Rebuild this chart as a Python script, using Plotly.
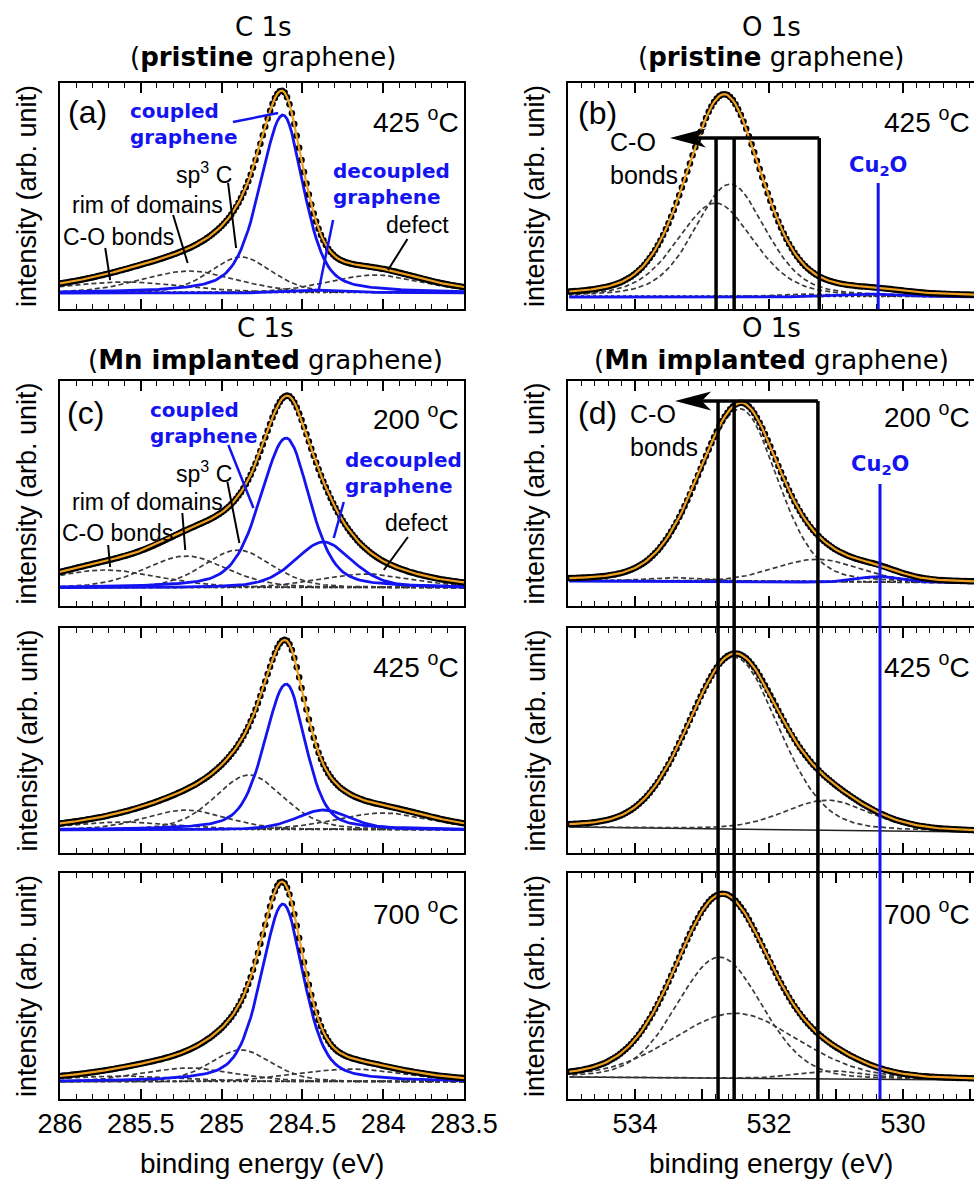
import numpy as np
import plotly.graph_objects as go

W, H = 974, 1179

# ---------------- values ----------------
C_RANGE = [286.0, 283.5]
O_RANGE = [535.0, 528.94]
C_TICKS = [286, 285.5, 285, 284.5, 284, 283.5]
C_TICKTEXT = ["286", "285.5", "285", "284.5", "284", "283.5"]
O_TICKS = [535, 534, 533, 532, 531, 530, 529]
O_TICKTEXT = ["", "534", "", "532", "", "530", ""]

# peak = [centre (eV), height, FWHM high-BE side, FWHM low-BE side, Lorentzian fraction]
# (a) C 1s pristine, 425 C
a_coupled = [284.62, 178, 0.34, 0.30, 0.45]
a_decoupled = [284.35, 3, 0.40, 0.40, 0.3]
a_sp3 = [284.88, 36, 0.45, 0.45, 0.3]
a_rim = [285.20, 22, 0.70, 0.70, 0.3]
a_co = [285.60, 11, 0.90, 0.90, 0.3]
a_defect = [284.05, 18, 0.70, 0.70, 0.3]
a_bg = [0, 0]
# (c) C 1s Mn implanted, 200 C
c200_coupled = [284.60, 150, 0.38, 0.34, 0.4]
c200_decoupled = [284.37, 46, 0.42, 0.42, 0.4]
c200_sp3 = [284.90, 38, 0.50, 0.50, 0.3]
c200_rim = [285.22, 32, 0.60, 0.60, 0.3]
c200_co = [285.72, 18, 0.80, 0.80, 0.3]
c200_defect = [284.10, 14, 0.70, 0.70, 0.3]
c200_bg = [0, 0]
# (c) 425 C
c425_coupled = [284.60, 146, 0.32, 0.28, 0.4]
c425_decoupled = [284.37, 20, 0.40, 0.40, 0.4]
c425_sp3 = [284.83, 55, 0.50, 0.50, 0.3]
c425_rim = [285.22, 20, 0.60, 0.60, 0.3]
c425_co = [285.60, 8, 0.80, 0.80, 0.3]
c425_defect = [284.00, 17, 0.70, 0.70, 0.3]
c425_bg = [0, 0]
# (c) 700 C
c700_coupled = [284.62, 178, 0.32, 0.30, 0.45]
c700_sp3 = [284.88, 32, 0.45, 0.45, 0.3]
c700_rim = [285.20, 14, 0.70, 0.70, 0.3]
c700_co = [285.60, 6, 0.90, 0.90, 0.3]
c700_defect = [284.20, 13, 0.80, 0.80, 0.3]
c700_bg = [0, 0]
# (b) O 1s pristine, 425 C
b_comp1 = [532.58, 113, 1.25, 1.25, 0.35]
b_comp2 = [532.80, 94, 1.35, 1.35, 0.35]
b_comp3 = [531.30, 3, 1.40, 1.40, 0.3]
b_cu2o = [530.35, 3, 1.00, 1.00, 0.3]
b_bg = [0, 0]
# (d) O 1s Mn implanted, 200 C
d200_main = [532.43, 173, 1.45, 1.30, 0.2]
d200_high = [531.28, 23, 1.50, 1.50, 0.2]
d200_small = [533.30, 4, 1.20, 1.20, 0.2]
d200_cu2o = [530.34, 6, 0.80, 0.80, 0.2]
d200_bg = [1, -1]
# (d) 425 C
d425_main = [532.52, 172, 1.62, 1.55, 0.15]
d425_high = [531.13, 30, 1.50, 1.50, 0.2]
d425_bg = [1, -4]
# (d) 700 C
d700_a = [532.74, 121, 1.50, 1.50, 0.15]
d700_b = [532.50, 65, 2.20, 2.20, 0.15]
d700_c = [531.00, 8, 1.20, 1.20, 0.2]
d700_bg = [1, -2]

# marker positions of labels / guide lines (data coords)
O_LINES_B = [532.79, 532.52, 531.25]
O_LINES_D = [532.76, 532.52, 531.27]
CU2O_B = 530.37
CU2O_D = 530.343

# ---------------- layout geometry ----------------
COLS = [(60, 464), (568, 975)]
ROWS = [(83, 309), (381, 606), (628, 853), (873, 1099)]
YR = {1: [-16, 210], 3: [-18, 207], 5: [-23, 202], 7: [-17, 209],
      2: [-12, 214], 4: [-24, 201], 6: [-25, 200], 8: [-21, 205]}

SANS = "Liberation Sans, Arial, sans-serif"
VER = "DejaVu Sans, Verdana, sans-serif"
ORANGE = "#F0A020"
BLUE = "#1414F0"
DASH = "#3a3a3a"


def profile(E, p):
    c, h, wh, wl, eta = p
    w = np.where(E >= c, wh, wl)
    u = (E - c) / w
    return h * (eta / (1 + 4 * u ** 2) + (1 - eta) * np.exp(-4 * np.log(2) * u ** 2))


fig = go.Figure()


def add_panel(n, rng, step, bg, dashed, blue, bg_style):
    E = np.arange(min(rng), max(rng) + step / 2, step)
    bgv = bg[0] + (bg[1] - bg[0]) * (E - rng[0]) / (rng[1] - rng[0])
    xa, ya = "x%d" % n, "y%d" % n
    total = bgv.copy()
    if bg_style == "solid":
        fig.add_trace(go.Scatter(x=E, y=bgv, mode="lines", line=dict(color="#222", width=1.5),
                                 xaxis=xa, yaxis=ya, showlegend=False, hoverinfo="skip"))
    else:
        fig.add_trace(go.Scatter(x=E, y=bgv + 0.8, mode="lines", line=dict(color="#222", width=2, dash="dot"),
                                 xaxis=xa, yaxis=ya, showlegend=False, hoverinfo="skip"))
    for p in dashed:
        v = profile(E, p)
        total += v
        fig.add_trace(go.Scatter(x=E, y=bgv + v, mode="lines", line=dict(color=DASH, width=1.7, dash="5px,3px"),
                                 xaxis=xa, yaxis=ya, showlegend=False, hoverinfo="skip"))
    for p in blue:
        v = profile(E, p)
        total += v
        fig.add_trace(go.Scatter(x=E, y=bgv + v, mode="lines", line=dict(color=BLUE, width=2.8),
                                 xaxis=xa, yaxis=ya, showlegend=False, hoverinfo="skip"))
    fig.add_trace(go.Scatter(x=E, y=total, mode="markers", marker=dict(color="black", size=6.5),
                             xaxis=xa, yaxis=ya, showlegend=False, hoverinfo="skip"))
    fig.add_trace(go.Scatter(x=E, y=total, mode="lines", line=dict(color=ORANGE, width=2.2),
                             xaxis=xa, yaxis=ya, showlegend=False, hoverinfo="skip"))


add_panel(1, C_RANGE, 0.015, a_bg, [a_co, a_rim, a_sp3, a_defect], [a_coupled, a_decoupled], "dot")
add_panel(3, C_RANGE, 0.015, c200_bg, [c200_co, c200_rim, c200_sp3, c200_defect], [c200_coupled, c200_decoupled], "dot")
add_panel(5, C_RANGE, 0.015, c425_bg, [c425_co, c425_rim, c425_sp3, c425_defect], [c425_coupled, c425_decoupled], "dot")
add_panel(7, C_RANGE, 0.015, c700_bg, [c700_co, c700_rim, c700_sp3, c700_defect], [c700_coupled], "dot")
add_panel(2, O_RANGE, 0.04, b_bg, [b_comp1, b_comp2, b_comp3], [b_cu2o], "dot")
add_panel(4, O_RANGE, 0.04, d200_bg, [d200_main, d200_high, d200_small], [d200_cu2o], "dot")
add_panel(6, O_RANGE, 0.04, d425_bg, [d425_main, d425_high], [], "solid")
add_panel(8, O_RANGE, 0.04, d700_bg, [d700_a, d700_b, d700_c], [], "solid")

# ---------------- axes ----------------
layout = dict(width=W, height=H, margin=dict(l=0, r=0, t=0, b=0, pad=0, autoexpand=False),
              paper_bgcolor="white", plot_bgcolor="white", showlegend=False)


def pdom(lo, hi):
    return [1 - hi / H, 1 - lo / H]


for n in range(1, 9):
    col = (n - 1) % 2
    row = (n - 1) // 2
    left = col == 0
    xd = [COLS[col][0] / W, min(COLS[col][1] / W, 1.0)]
    yd = pdom(*ROWS[row])
    layout["xaxis%d" % n] = dict(
        domain=xd, range=C_RANGE if left else O_RANGE, autorange=False,
        tickmode="array", tickvals=C_TICKS if left else O_TICKS,
        ticktext=C_TICKTEXT if left else O_TICKTEXT,
        ticks="inside", ticklen=10, tickwidth=1.5, tickcolor="black",
        showline=True, linecolor="black", linewidth=2, mirror="ticks",
        showgrid=False, zeroline=False, showticklabels=(row == 3),
        tickfont=dict(family=SANS, size=27, color="black"),
        minor=dict(tickmode="linear", tick0=284 if left else 530, dtick=0.1 if left else 0.2,
                   ticks="inside", ticklen=5, tickwidth=1.2, tickcolor="black", showgrid=False),
        anchor="y%d" % n)
    layout["yaxis%d" % n] = dict(
        domain=yd, range=YR[n], autorange=False, showline=True, linecolor="black", linewidth=2,
        mirror=True if left else False, ticks="", showticklabels=False, showgrid=False,
        zeroline=False, anchor="x%d" % n)

fig.update_layout(**layout)


def ypaper(n, val):
    row = (n - 1) // 2
    d0, d1 = pdom(*ROWS[row])
    lo, hi = YR[n]
    return d0 + (val - lo) / (hi - lo) * (d1 - d0)


ann = []
shapes = []


def text(n, x, y, s, size=23, color="black", family=SANS, xanchor="center", bold=False):
    if bold:
        s = "<b>" + s + "</b>"
    ann.append(dict(x=x, y=y, xref="x%d" % n, yref="y%d" % n, text=s, showarrow=False,
                    xanchor=xanchor, yanchor="middle", align=xanchor if xanchor != "center" else "center",
                    font=dict(family=family, size=size, color=color)))


def line(n, x0, y0, x1, y1, color="black", width=2):
    shapes.append(dict(type="line", xref="x%d" % n, yref="y%d" % n, x0=x0, y0=y0, x1=x1, y1=y1,
                       line=dict(color=color, width=width), layer="above"))


# titles
for (cx, s1, s2, cy1, cy2) in [(263, "C 1s", "(<b>pristine</b> graphene)", 27, 57),
                                (771, "O 1s", "(<b>pristine</b> graphene)", 27, 57),
                                (265, "C 1s", "(<b>Mn implanted</b> graphene)", 328, 360),
                                (771, "O 1s", "(<b>Mn implanted</b> graphene)", 328, 360)]:
    ann.append(dict(x=cx / W, y=1 - cy1 / H, xref="paper", yref="paper", text=s1, showarrow=False,
                    xanchor="center", yanchor="middle", font=dict(family=VER, size=26, color="black")))
    ann.append(dict(x=cx / W, y=1 - cy2 / H, xref="paper", yref="paper", text=s2, showarrow=False,
                    xanchor="center", yanchor="middle", font=dict(family=VER, size=26, color="black")))

# y axis titles and x axis titles
for n in range(1, 9):
    col = (n - 1) % 2
    row = (n - 1) // 2
    cy = (ROWS[row][0] + ROWS[row][1]) / 2
    xx = 27 if col == 0 else 535
    ann.append(dict(x=xx / W, y=1 - cy / H, xref="paper", yref="paper", text="intensity (arb. unit)",
                    textangle=-90, showarrow=False, xanchor="center", yanchor="middle",
                    font=dict(family=SANS, size=27, color="black")))
for cx in (262, 771):
    ann.append(dict(x=cx / W, y=1 - 1163 / H, xref="paper", yref="paper", text="binding energy (eV)",
                    showarrow=False, xanchor="center", yanchor="middle",
                    font=dict(family=SANS, size=28, color="black")))

# panel tags and temperatures
text(1, 285.83, 181, "(a)", size=32)
text(3, 285.845, 175, "(c)", size=32)
text(2, 534.567, 184, "(b)", size=32)
text(4, 534.567, 169, "(d)", size=32)
for n, y, t in [(1, 173, "425"), (3, 171, "200"), (5, 165, "425"), (7, 170, "700")]:
    text(n, 283.519, y, t + " <sup>o</sup>C", size=28, xanchor="right")
for n, y, t in [(2, 177, "425"), (4, 167, "200"), (6, 163, "425"), (8, 166, "700")]:
    text(n, 528.97, y, t + " <sup>o</sup>C", size=28, xanchor="right")

# C 1s labels
c_lab = {1: dict(coup=(285.58, 169.5), dec=(284.325, 109.5), sp3=(285.11, 120), rim=(285.46, 88),
                 co=(285.64, 56), defect=(283.79, 68),
                 black=[[284.96, 110, 284.91, 45], [285.30, 78, 285.21, 30], [285.72, 45, 285.69, 13],
                        [283.85, 54, 283.97, 23]],
                 blue=[[284.93, 171, 284.65, 180], [284.31, 73, 284.40, 2]]),
         3: dict(coup=(285.454, 165.5), dec=(284.251, 115.5), sp3=(285.11, 116), rim=(285.457, 86),
                 co=(285.643, 55), defect=(283.792, 65),
                 black=[[284.964, 106, 284.890, 45], [285.243, 75, 285.225, 38], [285.702, 43, 285.690, 21],
                        [283.847, 51, 283.996, 18]],
                 blue=[[284.958, 143, 284.803, 80], [284.244, 86, 284.306, 50]])}
for n, d in c_lab.items():
    text(n, d["coup"][0], d["coup"][1], "coupled<br>graphene", size=20, color=BLUE, family=VER,
         xanchor="left", bold=True)
    text(n, d["dec"][0], d["dec"][1], "decoupled<br>graphene", size=20, color=BLUE, family=VER,
         xanchor="left", bold=True)
    text(n, d["sp3"][0], d["sp3"][1], "sp<sup>3</sup> C")
    text(n, d["rim"][0], d["rim"][1], "rim of domains")
    text(n, d["co"][0], d["co"][1], "C-O bonds")
    text(n, d["defect"][0], d["defect"][1], "defect")
    for s in d["black"]:
        line(n, *s, color="black", width=2)
    for s in d["blue"]:
        line(n, *s, color=BLUE, width=2.5)

# O 1s labels
text(2, 534.403, 138.5, "C-O<br>bonds", size=25, xanchor="left")
text(4, 534.104, 152, "C-O<br>bonds", size=25, xanchor="left")
text(2, CU2O_B, 131, "Cu<sub>2</sub>O", size=21, color=BLUE, family=VER, bold=True)
text(4, CU2O_D, 117, "Cu<sub>2</sub>O", size=21, color=BLUE, family=VER, bold=True)

# guide lines in (b)
TOP_B = 159
for xv in O_LINES_B:
    line(2, xv, TOP_B, xv, YR[2][0], width=3.5)
line(2, O_LINES_B[-1], TOP_B, 533.15, TOP_B, width=3.5)
shapes.append(dict(type="path", xref="x2", yref="y2",
                   path="M 533.433 %g L 532.98 %g L 533.10 %g L 532.98 %g Z" % (TOP_B, TOP_B + 8, TOP_B, TOP_B - 8),
                   fillcolor="black", line=dict(color="black", width=1.5), layer="above"))
line(2, CU2O_B, 114, CU2O_B, YR[2][0], color=BLUE, width=3)

# guide lines in (d), spanning the three stacked panels
TOP_D = 181
yb = ypaper(8, YR[8][0])
yt = ypaper(4, TOP_D)
for xv in O_LINES_D:
    shapes.append(dict(type="line", xref="x4", yref="paper", x0=xv, x1=xv, y0=yb, y1=yt,
                       line=dict(color="black", width=3.5), layer="above"))
line(4, O_LINES_D[-1], TOP_D, 533.07, TOP_D, width=3.5)
shapes.append(dict(type="path", xref="x4", yref="y4",
                   path="M 533.358 %g L 532.90 %g L 533.02 %g L 532.90 %g Z" % (TOP_D, TOP_D + 8, TOP_D, TOP_D - 8),
                   fillcolor="black", line=dict(color="black", width=1.5), layer="above"))
shapes.append(dict(type="line", xref="x4", yref="paper", x0=CU2O_D, x1=CU2O_D, y0=yb, y1=ypaper(4, 98),
                   line=dict(color=BLUE, width=3), layer="above"))

fig.update_layout(annotations=ann, shapes=shapes)
fig.write_html("out.html", config={"displayModeBar": False},
               post_script="document.body.style.margin='0px';document.body.style.overflow='hidden';")
